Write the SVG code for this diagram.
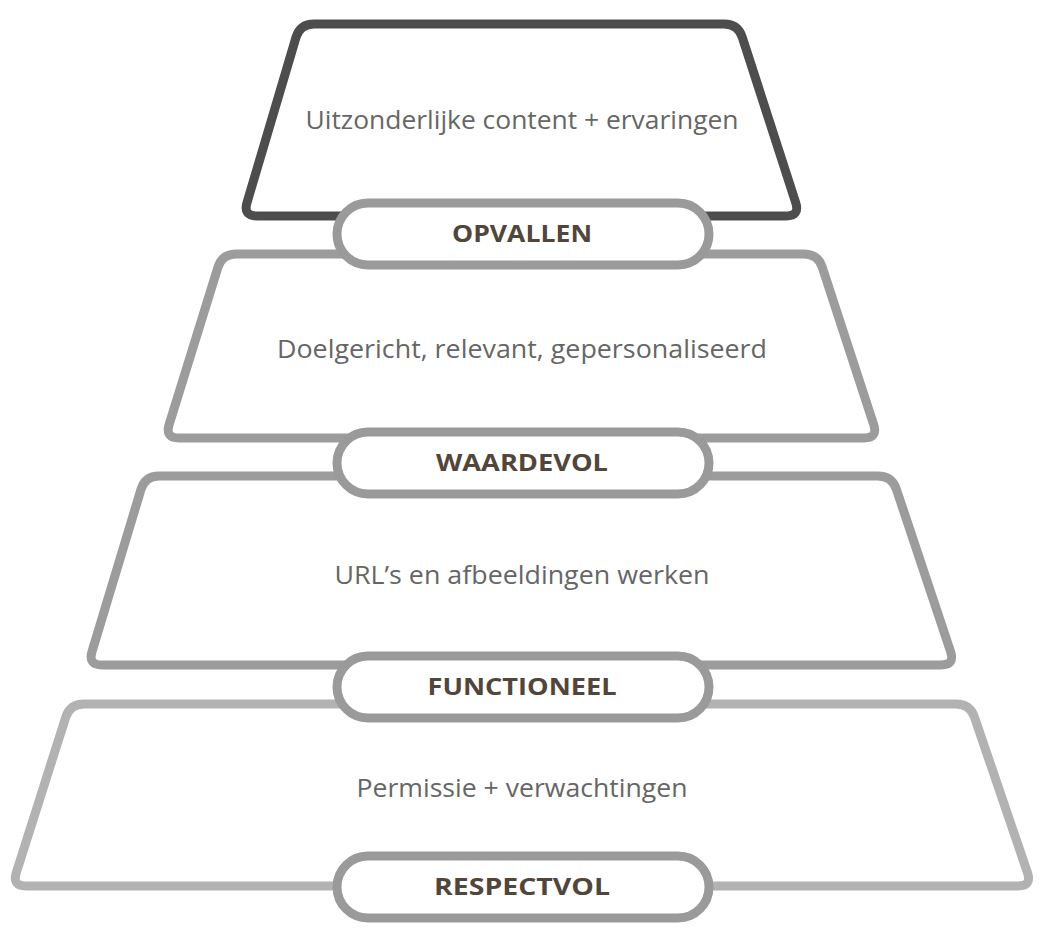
<svg xmlns="http://www.w3.org/2000/svg" width="1044" height="934" viewBox="0 0 1044 934">
<style>
.trap{fill:#fff;stroke-width:9;stroke-linejoin:round}
.pill{fill:#fff;stroke:#9a9a9a;stroke-width:9}
.body{font-family:"Open Sans","Liberation Sans",sans-serif;font-size:25px;fill:#666666;text-anchor:middle}
.lbl{font-family:"Open Sans","Liberation Sans",sans-serif;font-size:23px;font-weight:700;fill:#52453a;text-anchor:middle}
</style>
<rect width="1044" height="934" fill="#fff"/>
<g id="level4">
<path class="trap" stroke="#b2b2b2" d="M 84,704 L 956,704 Q 970,704 974.5,717.2 L 1027.5,872.8 Q 1032,886 1018,886 L 26,886 Q 12,886 16.3,872.7 L 65.7,717.3 Q 70,704 84,704 Z"/>
<text class="body" x="522" y="797" textLength="331" lengthAdjust="spacingAndGlyphs">Permissie + verwachtingen</text>
</g>
<g id="level3">
<path class="trap" stroke="#9c9c9c" d="M 159,476 L 878,476 Q 892,476 896.4,489.3 L 950.6,651.7 Q 955,665 941,665 L 102,665 Q 88,665 92.0,651.6 L 141.0,489.4 Q 145,476 159,476 Z"/>
<text class="body" x="522" y="584" textLength="375" lengthAdjust="spacingAndGlyphs">URL’s en afbeeldingen werken</text>
</g>
<g id="level2">
<path class="trap" stroke="#9c9c9c" d="M 236,254 L 804,254 Q 818,254 822.3,267.3 L 873.7,424.7 Q 878,438 864,438 L 179,438 Q 165,438 169.1,424.6 L 217.9,267.4 Q 222,254 236,254 Z"/>
<text class="body" x="522" y="358" textLength="490" lengthAdjust="spacingAndGlyphs">Doelgericht, relevant, gepersonaliseerd</text>
</g>
<g id="level1">
<path class="trap" stroke="#4d4d4d" d="M 314,24 L 724,24 Q 738,24 742.3,37.3 L 795.7,202.7 Q 800,216 786,216 L 257,216 Q 243,216 247,202.6 L 296,37.4 Q 300,24 314,24 Z"/>
<text class="body" x="522" y="129" textLength="433" lengthAdjust="spacingAndGlyphs">Uitzonderlijke content + ervaringen</text>
</g>
<g id="pill-opvallen">
<rect class="pill" x="337" y="203" width="372" height="62" rx="31"/>
<text class="lbl" x="522" y="242" textLength="140" lengthAdjust="spacingAndGlyphs">OPVALLEN</text>
</g>
<g id="pill-waardevol">
<rect class="pill" x="337" y="432" width="372" height="62" rx="31"/>
<text class="lbl" x="522" y="471" textLength="172" lengthAdjust="spacingAndGlyphs">WAARDEVOL</text>
</g>
<g id="pill-functioneel">
<rect class="pill" x="337" y="656" width="372" height="62" rx="31"/>
<text class="lbl" x="522" y="695" textLength="189" lengthAdjust="spacingAndGlyphs">FUNCTIONEEL</text>
</g>
<g id="pill-respectvol">
<rect class="pill" x="337" y="856" width="372" height="62" rx="31" stroke="#a2a2a2"/>
<text class="lbl" x="522" y="895" textLength="176" lengthAdjust="spacingAndGlyphs">RESPECTVOL</text>
</g>
<g id="connectors"/>
</svg>
